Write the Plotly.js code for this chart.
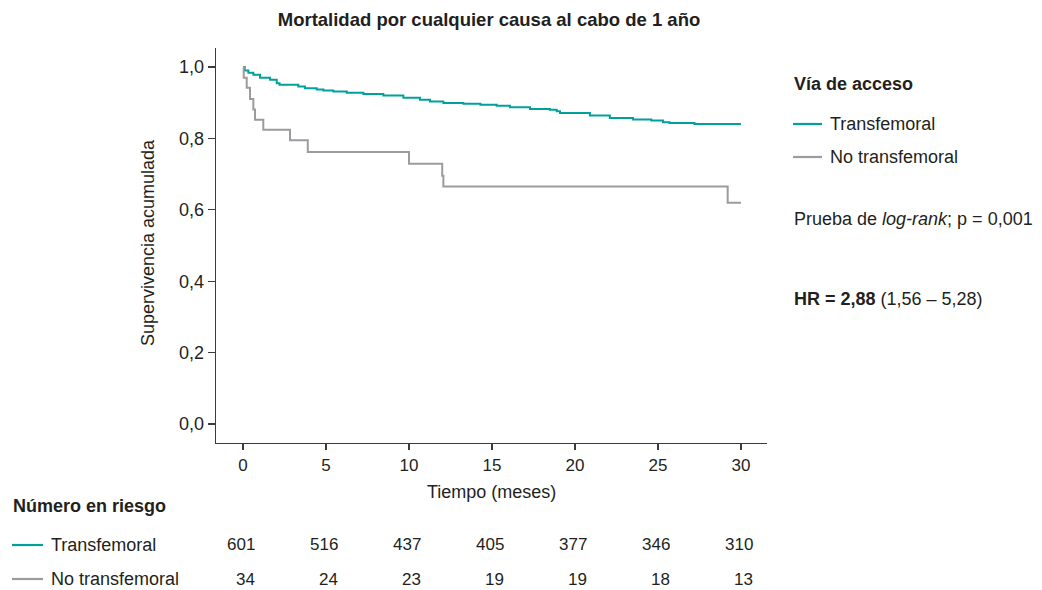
<!DOCTYPE html>
<html>
<head>
<meta charset="utf-8">
<script src="https://cdn.plot.ly/plotly-3.0.1.min.js"></script>
<style>html,body{margin:0;padding:0;background:#fff;}#chart{width:1042px;height:590px;}</style>
</head>
<body>
<div id="chart"></div>
<script>
// Kaplan-Meier data (time in months, cumulative survival)
const tfTime = [0, 0.1, 0.32, 0.62, 1.02, 1.63, 2.03, 2.2, 3.33, 3.73, 4.44, 4.84, 5.44, 6.25, 7.25, 8.45, 9.66, 10.66, 11.27, 12.07, 13.27, 14.3, 15.28, 16.08, 17.29, 18.49, 18.9, 19.1, 20.9, 22.1, 23.5, 24.6, 25.3, 25.7, 27.2, 30];
const tfSurv = [1.0, 0.99, 0.984, 0.978, 0.970, 0.964, 0.954, 0.950, 0.945, 0.940, 0.937, 0.934, 0.931, 0.928, 0.924, 0.920, 0.914, 0.908, 0.903, 0.899, 0.897, 0.894, 0.891, 0.887, 0.882, 0.880, 0.876, 0.871, 0.864, 0.857, 0.853, 0.850, 0.845, 0.843, 0.840, 0.840];
const ntfTime = [0, 0.04, 0.22, 0.42, 0.62, 0.72, 1.22, 2.83, 3.9, 10.0, 12.0, 12.07, 29.2, 30];
const ntfSurv = [1.0, 0.970, 0.942, 0.910, 0.881, 0.852, 0.824, 0.795, 0.762, 0.729, 0.695, 0.665, 0.620, 0.620];

// Number at risk table
const riskTimes = [0, 5, 10, 15, 20, 25, 30];
const riskTF = [601, 516, 437, 405, 377, 346, 310];
const riskNTF = [34, 24, 23, 19, 19, 18, 13];

const seriesNames = ["Transfemoral", "No transfemoral"];
const tickVals = [0, 0.2, 0.4, 0.6, 0.8, 1.0];
const xTickVals = [0, 5, 10, 15, 20, 25, 30];

const TEAL = "#00a19b";
const GRAY = "#9b9ba0";
const TXT = "#231f20";
const AX = "#3c3c3c";
const FONT = "Liberation Sans, Arial, sans-serif";
const TS = 18;   // text size
const NS = 17;   // number size

// pixel helpers for paper coordinates (plot area 216..767 x 48..443)
const L = 216, R = 767, T = 48, B = 443;
const px = v => (v - L) / (R - L);
const py = v => (B - v) / (B - T);

const traces = [
  {x: tfTime, y: tfSurv, type: "scatter", mode: "lines", name: seriesNames[0],
   line: {color: TEAL, width: 2, shape: "hv"}, hoverinfo: "x+y"},
  {x: ntfTime, y: ntfSurv, type: "scatter", mode: "lines", name: seriesNames[1],
   line: {color: GRAY, width: 2, shape: "hv"}, hoverinfo: "x+y"}
];

const annotations = [];
const shapes = [];
function txt(text, x, y, opts) {
  annotations.push(Object.assign({text: text, x: x, y: y, xref: "paper", yref: "paper",
    showarrow: false, xanchor: "left", yanchor: "middle",
    font: {family: FONT, size: TS, color: TXT}}, opts || {}));
}
// y-axis title
txt("Supervivencia acumulada", px(148), py(243), {textangle: -90, xanchor: "center"});
// x-axis title
txt("Tiempo (meses)", px(491), py(492), {xanchor: "center"});
// legend block
txt("<b>Vía de acceso</b>", px(792), py(84));
shapes.push({type: "line", xref: "paper", yref: "paper", x0: px(793), x1: px(822), y0: py(124), y1: py(124), line: {color: TEAL, width: 2.2}});
txt(seriesNames[0], px(828), py(124));
shapes.push({type: "line", xref: "paper", yref: "paper", x0: px(793), x1: px(822), y0: py(157), y1: py(157), line: {color: GRAY, width: 2.2}});
txt(seriesNames[1], px(828), py(157));
txt("Prueba de <i>log-rank</i>; p = 0,001", px(792), py(219));
txt("<b>HR = 2,88</b> (1,56 – 5,28)", px(792), py(299));
// risk table
txt("<b>Número en riesgo</b>", px(11), py(506));
shapes.push({type: "line", xref: "paper", yref: "paper", x0: px(12), x1: px(43), y0: py(545), y1: py(545), line: {color: TEAL, width: 2.2}});
txt(seriesNames[0], px(49), py(545));
shapes.push({type: "line", xref: "paper", yref: "paper", x0: px(12), x1: px(43), y0: py(579), y1: py(579), line: {color: GRAY, width: 2.2}});
txt(seriesNames[1], px(49), py(579));
riskTimes.forEach((t, i) => {
  annotations.push({text: String(riskTF[i]), x: t, y: py(544), xref: "x", yref: "paper", showarrow: false,
    xanchor: "right", xshift: 14, yanchor: "middle", font: {family: FONT, size: NS, color: TXT}});
  annotations.push({text: String(riskNTF[i]), x: t, y: py(579), xref: "x", yref: "paper", showarrow: false,
    xanchor: "right", xshift: 14, yanchor: "middle", font: {family: FONT, size: NS, color: TXT}});
});

const layout = {
  width: 1042, height: 590,
  margin: {l: L, r: 1042 - R, t: T, b: 590 - B, pad: 0},
  paper_bgcolor: "#fff", plot_bgcolor: "#fff",
  separators: ",.",
  showlegend: false,
  font: {family: FONT, size: NS, color: TXT},
  title: {text: "<b>Mortalidad por cualquier causa al cabo de 1 año</b>", x: px(489), xref: "paper", xanchor: "center",
    y: 1 - 20 / 590, yref: "container", yanchor: "middle", font: {family: FONT, size: 18.5, color: TXT}},
  xaxis: {range: [-1.63, 31.57], tickvals: xTickVals, ticks: "outside", ticklen: 6, tickwidth: 1.3, tickcolor: AX,
    showline: true, linecolor: AX, linewidth: 1.3, showgrid: false, zeroline: false,
    tickfont: {family: FONT, size: NS, color: TXT}},
  yaxis: {range: [-0.053, 1.053], tickvals: tickVals, tickformat: ".1f", ticks: "outside", ticklen: 7, tickwidth: 1.3, tickcolor: AX,
    showline: true, linecolor: AX, linewidth: 1.3, showgrid: false, zeroline: false,
    tickfont: {family: FONT, size: 18, color: TXT}},
  annotations: annotations,
  shapes: shapes
};

Plotly.newPlot("chart", traces, layout, {displayModeBar: false, staticPlot: true});
</script>
</body>
</html>
